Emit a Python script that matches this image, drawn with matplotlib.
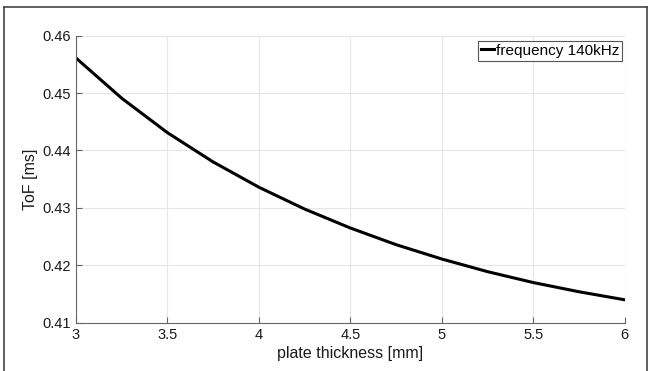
import matplotlib.pyplot as plt
import numpy as np
from matplotlib.lines import Line2D

# plate thickness [mm] and time of flight [ms]
thickness = [3.0, 3.25, 3.5, 3.75, 4.0, 4.25, 4.5, 4.75, 5.0, 5.25, 5.5, 5.75, 6.0]
tof = [0.4561, 0.4491, 0.4431, 0.4380, 0.4336, 0.4298, 0.4265, 0.4236, 0.4211, 0.4189, 0.4170, 0.4154, 0.4140]

xticks = [3, 3.5, 4, 4.5, 5, 5.5, 6]
xticklabels = ['3', '3.5', '4', '4.5', '5', '5.5', '6']
yticks = [0.41, 0.42, 0.43, 0.44, 0.45, 0.46]

plt.rcParams['font.family'] = ['Liberation Sans', 'DejaVu Sans']

fig = plt.figure(figsize=(6.51, 3.71), dpi=100)
ax = fig.add_axes([0.1167, 0.130, 0.843, 0.774])

ax.plot(thickness, tof, color='black', lw=2.2, label='frequency 140kHz')
ax.set_xlim(3, 6)
ax.set_ylim(0.41, 0.46)
ax.set_xticks(xticks)
ax.set_xticklabels(xticklabels)
ax.set_yticks(yticks)
ax.grid(True, color='#e6e6e6', lw=0.8)
ax.set_axisbelow(True)
for s in ['top', 'right']:
    ax.spines[s].set_visible(False)
for s in ['left', 'bottom']:
    ax.spines[s].set_color('#666666')
ax.tick_params(labelsize=10.5, colors='#666666', labelcolor='#1a1a1a', length=4, direction='in', pad=4)
ax.set_xlabel('plate thickness [mm]', fontsize=11.5, labelpad=3, color='#1a1a1a')
ax.set_ylabel('ToF [ms]', fontsize=11.5, labelpad=3, color='#1a1a1a')

leg = ax.legend(loc='upper right', fontsize=11, handlelength=0.85, handletextpad=0.1,
                borderpad=0.2, borderaxespad=0, fancybox=False, framealpha=1,
                bbox_to_anchor=(0.995, 0.982))
leg.get_frame().set_edgecolor('#555555')
leg.get_frame().set_linewidth(0.8)

# outer frame of the cropped figure
fig.add_artist(Line2D([0.006, 0.006], [0, 0.981], color='#444444', lw=1.2, transform=fig.transFigure))
fig.add_artist(Line2D([0.006, 0.994], [0.981, 0.981], color='#444444', lw=1.2, transform=fig.transFigure))
fig.add_artist(Line2D([0.994, 0.994], [0, 0.981], color='#444444', lw=1.2, transform=fig.transFigure))

fig.savefig('out.png', dpi=100)
